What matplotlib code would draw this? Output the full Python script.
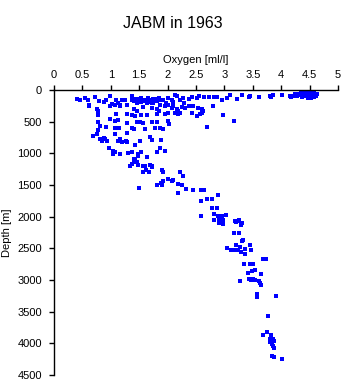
import numpy as np
import matplotlib
matplotlib.use("Agg")
import matplotlib.pyplot as plt

plt.rcParams['font.family'] = ['Liberation Sans', 'DejaVu Sans']

# Oxygen [ml/l] y profundidad [m] leidos de la figura
# capa superficial (0-130 m)
oxy_surf = [4.20, 4.24, 4.27, 4.30, 4.32, 4.35, 4.36, 4.38, 4.40, 4.41, 4.42, 4.43,
            4.44, 4.45, 4.46, 4.47, 4.48, 4.49, 4.50, 4.50, 4.51, 4.52, 4.53, 4.54,
            4.55, 4.56, 4.57, 4.58, 4.60, 4.61, 4.62, 4.33, 4.39, 4.47, 4.43, 4.52,
            4.28, 4.58, 3.43, 3.61, 3.82, 3.86, 4.01, 4.17]
dep_surf = [95, 70, 100, 60, 85, 40, 110, 20, 50, 75, 100, 10,
            35, 60, 85, 120, 25, 50, 70, 5, 95, 40, 15, 60,
            80, 30, 110, 50, 75, 100, 60, 75, 90, 0, 65, 125,
            80, 90, 110, 110, 110, 80, 80, 110]

# capa del minimo de oxigeno (100-1000 m)
oxy_mid = [0.41, 0.46, 0.55, 0.59, 0.62, 0.72, 0.79, 0.88, 0.92, 0.99, 1.02, 1.09,
           1.12, 1.16, 1.25, 1.28, 1.38, 1.40, 1.46, 1.51, 1.54, 1.57, 1.63, 1.66,
           1.72, 1.75, 1.81, 1.84, 1.87, 1.92, 1.98, 2.01, 2.07, 2.10, 2.16, 2.13,
           2.22, 2.27, 2.28, 2.37, 2.42, 2.51, 2.56, 2.64, 2.72, 2.81, 2.86, 2.95,
           3.04, 3.10, 3.22, 3.30, 3.45, 3.60, 3.80, 3.86, 4.01, 4.15,
           1.48, 1.60, 1.69, 1.78, 1.66, 1.75, 1.81, 1.63, 1.72, 1.54, 1.87, 1.37,
           1.43, 1.19,
           0.62, 0.75, 0.78, 0.99, 1.07, 1.16, 1.40, 1.46, 1.57, 1.72, 1.81, 1.84,
           1.95, 2.01, 2.07, 2.10, 2.16, 2.19, 2.25, 2.31, 2.38, 2.42, 2.45, 2.54,
           2.60, 2.63, 2.79,
           0.78, 1.10, 1.28, 1.37, 1.43, 1.54, 1.63, 1.81, 1.95, 2.01, 2.13, 2.19,
           2.22, 2.51, 2.57, 2.60, 2.97, 3.16, 0.99, 1.07, 1.12, 0.78, 1.28, 1.46,
           1.51, 1.57, 1.72, 1.81, 2.01, 2.03, 0.81, 0.92, 1.07, 1.14, 1.37, 1.40,
           1.60, 1.78, 1.87, 1.92, 2.70,
           0.78, 0.75, 1.07, 1.28, 0.68, 0.81, 0.84, 0.90, 0.93, 0.88, 1.13, 1.16,
           1.27, 1.29, 1.51, 1.69, 1.72, 1.88, 1.43, 1.19]
dep_mid = [141, 162, 125, 151, 229, 109, 177, 188, 151, 99, 214, 151,
           203, 229, 151, 229, 99, 177, 203, 151, 125, 177, 162, 193,
           151, 203, 177, 125, 229, 162, 203, 125, 151, 193, 99, 73,
           162, 125, 203, 141, 109, 125, 99, 109, 109, 109, 109, 162,
           125, 73, 141, 73, 89, 109, 99, 73, 73, 89,
           141, 151, 177, 162, 125, 141, 141, 203, 203, 193, 162, 151,
           141, 151,
           255, 307, 333, 255, 229, 255, 297, 333, 266, 281, 307, 333,
           255, 229, 281, 255, 307, 333, 266, 281, 245, 359, 245, 281,
           297, 333, 245,
           401, 375, 386, 401, 412, 401, 401, 386, 386, 359, 359, 386,
           359, 412, 386, 359, 391, 490, 464, 490, 474, 500, 516, 500,
           500, 516, 505, 505, 490, 542, 568, 578, 594, 594, 594, 620,
           610, 594, 594, 620, 578,
           630, 698, 698, 672, 724, 776, 812, 766, 802, 750, 802, 776,
           802, 828, 802, 735, 787, 787, 870, 828]

# aguas intermedias y profundas (900-4300 m)
oxy_deep = [0.97, 1.04, 1.07, 1.03, 1.16, 1.31, 1.37, 1.47, 1.47, 1.54, 1.81, 1.87,
            1.95, 1.40, 1.43, 1.46, 1.63,
            1.34, 1.37, 1.40, 1.48, 1.57, 1.60, 1.69, 1.72, 1.62, 1.57, 1.68, 1.72,
            1.90, 1.91, 2.22, 2.27,
            2.00, 2.07, 2.10, 1.88, 1.92, 1.81, 1.90, 2.19, 2.25, 2.32, 2.19, 2.45,
            2.58, 2.64, 1.50, 2.89,
            2.69, 2.58, 2.78, 2.86, 2.78, 2.81, 2.89, 2.95, 3.03, 2.58, 2.91, 2.98,
            3.19, 3.26, 3.30,
            2.81, 2.90, 2.98, 2.98, 3.20, 3.25, 3.29, 3.17, 3.25, 3.30, 3.32, 3.05,
            3.12, 3.16, 3.20, 3.23, 3.27, 3.29, 3.36, 3.37, 3.45, 3.46, 3.35, 3.51,
            3.45, 3.67, 3.73, 3.42, 3.48, 3.54, 3.64, 3.27, 3.44, 3.46, 3.50, 3.54,
            3.60, 3.62, 3.64, 3.58, 3.58, 3.91, 3.77, 3.67, 3.74, 3.82, 3.81, 3.85,
            3.87, 3.80, 3.83, 3.85, 3.87, 3.83, 3.87, 4.01]
dep_deep = [922, 959, 985, 1011, 1011, 995, 985, 1011, 1037, 974, 974, 922,
            964, 1089, 1099, 1131, 1063,
            1204, 1167, 1141, 1183, 1193, 1204, 1183, 1204, 1256, 1287, 1297, 1219,
            1256, 1287, 1297, 1360,
            1401, 1443, 1428, 1464, 1443, 1495, 1506, 1480, 1495, 1558, 1620, 1584,
            1574, 1584, 1547, 1652,
            1725, 1751, 1714, 1860, 1870, 1964, 1985, 1985, 1975, 1990, 2058, 2053,
            2068, 2053, 2105,
            2059, 2101, 2085, 2112, 2085, 2075, 2138, 2253, 2253, 2385, 2374, 2495,
            2521, 2521, 2453, 2521, 2479, 2558, 2505, 2595, 2453, 2521, 2742, 2742,
            2752, 2673, 2663, 2889, 2862, 2847, 2910, 3009, 2978, 3004, 2988, 2994,
            3015, 3046, 3083, 3225, 3267, 3246, 3561, 3876, 3828, 3870, 3939, 3928,
            3960, 3975, 4012, 4044, 4080, 4201, 4212, 4248]

oxygen = np.array(oxy_surf + oxy_mid + oxy_deep)
depth = np.array(dep_surf + dep_mid + dep_deep)

fig = plt.figure(figsize=(3.45, 3.84), dpi=100)
ax = fig.add_axes([0.1565, 0.0234, 0.8235, 0.7422])
ax.plot(oxygen, depth, 's', color='blue', markersize=2.4, markeredgewidth=0)

ax.set_xlim(0, 5)
ax.set_ylim(4500, 0)
ax.set_xticks(np.arange(0, 5.01, 0.5))
ax.set_xticklabels(['0', '0.5', '1', '1.5', '2', '2.5', '3', '3.5', '4', '4.5', '5'])
ax.set_yticks(np.arange(0, 4501, 500))

ax.xaxis.tick_top()
ax.xaxis.set_label_position('top')
for s in ['right', 'bottom']:
    ax.spines[s].set_visible(False)
ax.spines['top'].set_linewidth(1)
ax.spines['left'].set_linewidth(1)
ax.tick_params(axis='both', direction='out', length=3.5, width=1, labelsize=8)
ax.tick_params(axis='x', pad=4)
ax.tick_params(axis='y', pad=5)

ax.set_xlabel('Oxygen [ml/l]', fontsize=8, labelpad=5)
ax.set_ylabel('Depth [m]', fontsize=8, labelpad=4)
fig.text(0.5, 0.94, 'JABM in 1963', ha='center', va='center', fontsize=11.5)

fig.savefig('out.png', dpi=100)
